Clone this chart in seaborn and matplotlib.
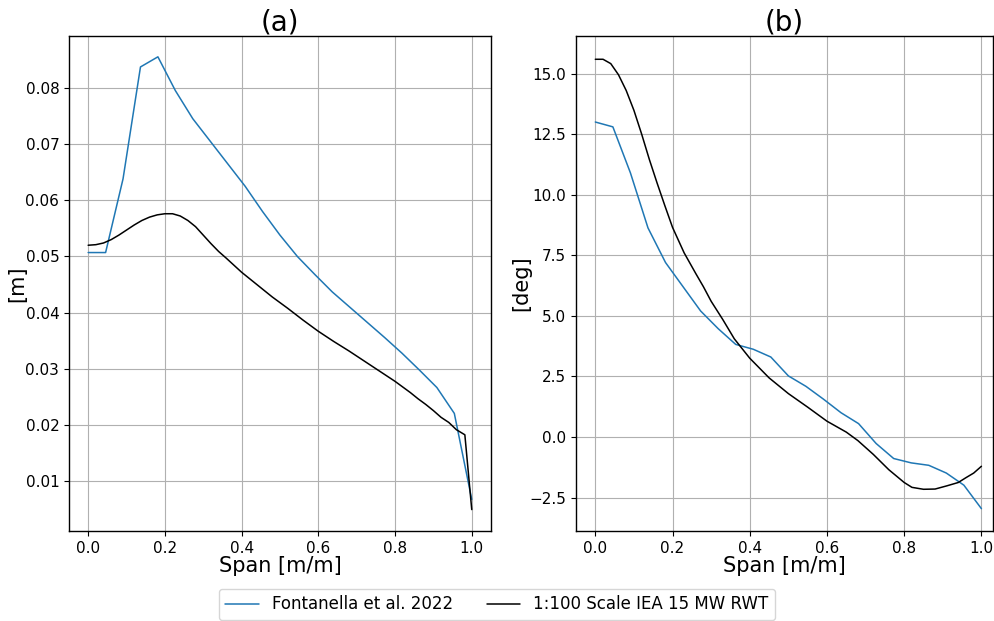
import matplotlib
matplotlib.use("Agg")
import matplotlib.pyplot as plt
import seaborn as sns
import pandas as pd

# ---- data ----
span_fontanella = [i / 22 for i in range(23)]
chord_fontanella = [0.0507, 0.0507, 0.0638, 0.0837, 0.0855, 0.0795, 0.0745, 0.0705,
                    0.0665, 0.0625, 0.0580, 0.0538, 0.0500, 0.0468, 0.0437, 0.0410,
                    0.0383, 0.0356, 0.0328, 0.0298, 0.0267, 0.0221, 0.0068]
twist_fontanella = [13.0, 12.8, 10.9, 8.63, 7.2, 6.2, 5.2, 4.47, 3.82, 3.62, 3.30, 2.52,
                    2.09, 1.56, 1.0, 0.55, -0.27, -0.89, -1.07, -1.17, -1.49, -1.99, -2.96]

span_chord_model = [0.00, 0.02, 0.04, 0.06, 0.08, 0.10, 0.12, 0.14, 0.16, 0.18, 0.20,
                    0.22, 0.24, 0.26, 0.28, 0.30, 0.32, 0.34, 0.36, 0.40, 0.44, 0.48,
                    0.52, 0.56, 0.60, 0.64, 0.68, 0.72, 0.76, 0.80, 0.84, 0.86, 0.88,
                    0.90, 0.92, 0.94, 0.96, 0.982, 1.00]
chord_model = [0.0520, 0.0521, 0.0524, 0.0530, 0.0538, 0.0547, 0.0556, 0.0564, 0.0570,
               0.0574, 0.0576, 0.0576, 0.0572, 0.0564, 0.0553, 0.0538, 0.0523, 0.0509,
               0.0497, 0.0472, 0.0450, 0.0428, 0.0408, 0.0387, 0.0367, 0.0349, 0.0332,
               0.0314, 0.0296, 0.0278, 0.0258, 0.0247, 0.0237, 0.0226, 0.0214, 0.0205,
               0.0192, 0.0183, 0.0050]

span_twist_model = [0.00, 0.02, 0.04, 0.06, 0.08, 0.10, 0.12, 0.14, 0.16, 0.18, 0.20,
                    0.23, 0.26, 0.28, 0.30, 0.33, 0.36, 0.40, 0.45, 0.50, 0.55, 0.60,
                    0.65, 0.68, 0.72, 0.76, 0.80, 0.82, 0.85, 0.88, 0.91, 0.94, 0.96,
                    0.98, 1.00]
twist_model = [15.59, 15.59, 15.41, 14.95, 14.3, 13.48, 12.5, 11.45, 10.48, 9.55, 8.65,
               7.6, 6.75, 6.2, 5.6, 4.85, 4.05, 3.25, 2.44, 1.79, 1.23, 0.65, 0.2, -0.15,
               -0.72, -1.35, -1.88, -2.08, -2.16, -2.15, -2.02, -1.88, -1.68, -1.49, -1.21]

labels = ["Fontanella et al. 2022", "1:100 Scale IEA 15 MW RWT"]
colors = ["#1f77b4", "black"]

sns.set_style("ticks")
plt.rcParams["font.family"] = ["DejaVu Sans"]
plt.rcParams.update({"text.color": "black", "axes.labelcolor": "black",
                     "xtick.color": "black", "ytick.color": "black"})

fig = plt.figure(figsize=(9.94, 6.21), dpi=100)
ax1 = fig.add_axes([0.0694, 0.145, 0.4245, 0.797])
ax2 = fig.add_axes([0.5795, 0.145, 0.4195, 0.797])

df_a1 = pd.DataFrame({"x": span_fontanella, "y": chord_fontanella})
df_a2 = pd.DataFrame({"x": span_chord_model, "y": chord_model})
df_b1 = pd.DataFrame({"x": span_fontanella, "y": twist_fontanella})
df_b2 = pd.DataFrame({"x": span_twist_model, "y": twist_model})

sns.lineplot(data=df_a1, x="x", y="y", ax=ax1, color=colors[0], lw=1.1, label=labels[0], estimator=None, sort=False)
sns.lineplot(data=df_a2, x="x", y="y", ax=ax1, color=colors[1], lw=1.1, label=labels[1], estimator=None, sort=False)
sns.lineplot(data=df_b1, x="x", y="y", ax=ax2, color=colors[0], lw=1.1, estimator=None, sort=False)
sns.lineplot(data=df_b2, x="x", y="y", ax=ax2, color=colors[1], lw=1.1, estimator=None, sort=False)

for ax, title, ylab in [(ax1, "(a)", "[m]"), (ax2, "(b)", "[deg]")]:
    ax.set_title(title, fontsize=20, color="black", pad=4)
    ax.set_xlabel("Span [m/m]", fontsize=15, labelpad=0)
    ax.set_ylabel(ylab, fontsize=15, labelpad=-1)
    ax.grid(True, color="#b0b0b0", linewidth=0.8)
    ax.tick_params(labelsize=11, direction="out", length=3.5, width=0.8, color="black")
    for s in ax.spines.values():
        s.set_color("black")
        s.set_linewidth(1.0)
    ax.set_xticks([0.0, 0.2, 0.4, 0.6, 0.8, 1.0])

ax1.set_xlim(-0.05, 1.05)
ax1.set_ylim(0.0012, 0.0892)
ax1.set_yticks([0.01, 0.02, 0.03, 0.04, 0.05, 0.06, 0.07, 0.08])
ax2.set_xlim(-0.05, 1.03)
ax2.set_ylim(-3.88, 16.55)
ax2.set_yticks([-2.5, 0.0, 2.5, 5.0, 7.5, 10.0, 12.5, 15.0])

handles, labs = ax1.get_legend_handles_labels()
ax1.get_legend().remove()
fig.legend(handles, labs, loc="lower center", ncol=2, fontsize=12,
           bbox_to_anchor=(0.5, -0.012), frameon=True, columnspacing=2.0)

fig.savefig("out.png", dpi=100)
